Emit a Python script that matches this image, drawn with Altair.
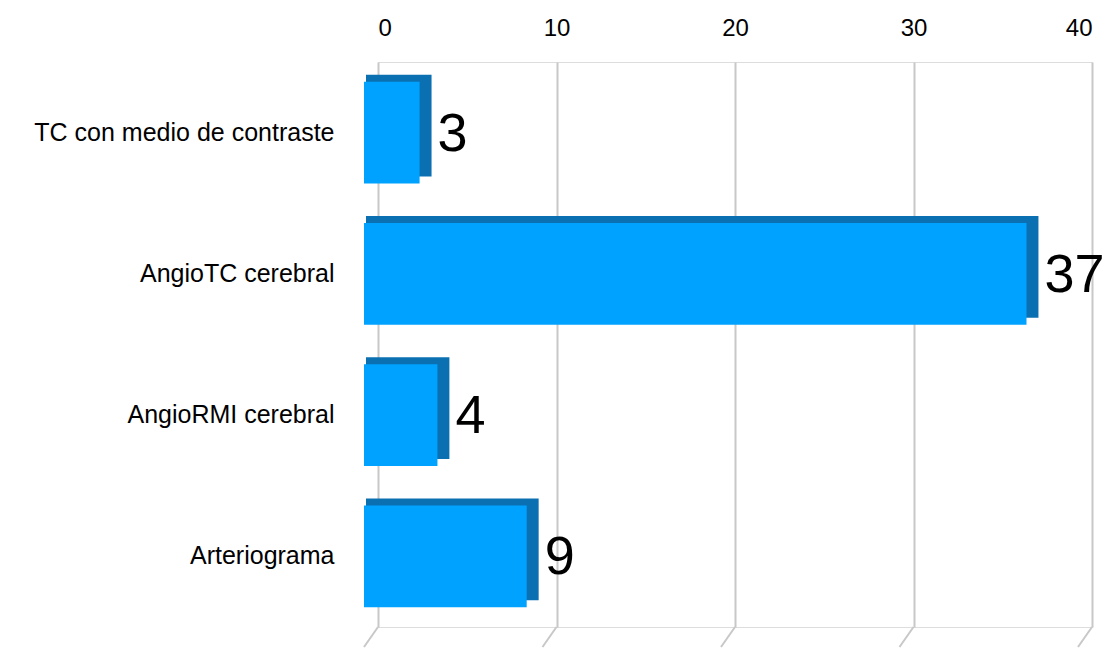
import altair as alt
import pandas as pd

categories = ["TC con medio de contraste", "AngioTC cerebral", "AngioRMI cerebral", "Arteriograma"]
values = [3, 37, 4, 9]
ticks = [0, 10, 20, 30, 40]

df = pd.DataFrame({"cat": categories, "val": values})
tick_df = pd.DataFrame({"tick": ticks})

W, H = 714, 565
FONT = "Liberation Sans"

y_enc = alt.Y("cat:N", sort=categories,
              scale=alt.Scale(paddingInner=0.28, paddingOuter=0.14),
              axis=alt.Axis(title=None, domain=False, ticks=False, labelFontSize=25,
                            labelFont=FONT, labelColor="#000000", labelPadding=44,
                            labelLimit=400))
x_scale = alt.Scale(domain=[0, 40], nice=False)
x_axis = alt.Axis(orient="top", values=ticks, title=None, domain=False, ticks=False,
                  grid=True, gridColor="#C8C8C8", gridWidth=2,
                  labelFontSize=24, labelFont=FONT, labelColor="#000000",
                  labelPadding=22)

base = alt.Chart(df).transform_calculate(zero="0", val_front="datum.val - 0.67")

# dark back face (top + side), shifted up
back = base.mark_bar(color="#0a70b2", yOffset=-7, xOffset=-12).encode(
    x=alt.X("zero:Q", scale=x_scale, axis=x_axis),
    x2="val:Q",
    y=y_enc)
# front face, ending a little before the value to reveal the side
front = base.mark_bar(color="#00A2FF", xOffset=-14).encode(
    x=alt.X("zero:Q", scale=x_scale),
    x2="val_front:Q",
    y=alt.Y("cat:N", sort=categories),
)

labels = base.mark_text(align="left", baseline="middle", dx=6, dy=2, fontSize=54,
                        font=FONT, color="#000000").encode(
    x=alt.X("val:Q", scale=x_scale), y=alt.Y("cat:N", sort=categories), text="val:Q")

floor = alt.Chart(tick_df).mark_rule(color="#C8C8C8", strokeWidth=2, x2Offset=-14).encode(
    x=alt.X("tick:Q", scale=x_scale), x2="tick:Q",
    y=alt.value(H), y2=alt.value(H + 20))

chart = alt.layer(back, front, labels, floor).properties(
    width=W, height=H,
    padding={"left": 370, "top": 54, "right": 18, "bottom": 22},
    autosize=alt.AutoSizeParams(type="none"),
).configure_view(stroke=None).configure(background="#ffffff")

chart.save("out.html", embed_options={"renderer": "svg", "actions": False})
